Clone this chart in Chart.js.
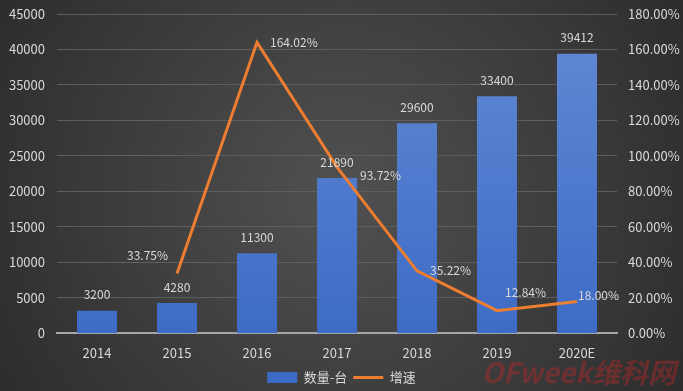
<!DOCTYPE html>
<html>
<head>
<meta charset="utf-8">
<script src="https://cdn.jsdelivr.net/npm/chart.js@4/dist/chart.umd.min.js"></script>
<style>
    html, body { margin: 0; padding: 0; background: #3a3a3a; }
    #wrap { width: 683px; height: 391px; position: relative; }
</style>
</head>
<body>
<div id="wrap"><canvas id="chart"></canvas></div>
<script>
    const years = ["2014", "2015", "2016", "2017", "2018", "2019", "2020E"];
    const units = [3200, 4280, 11300, 21890, 29600, 33400, 39412];
    const growth = [null, 0.3375, 1.6402, 0.9372, 0.3522, 0.1284, 0.18];
    const unitsLabel = "数量-台";
    const growthLabel = "增速";

    const textColor = "#d9d9d9";
    const fontFamily = "'Noto Sans CJK SC', 'Open Sans', sans-serif";

    // dark radial background like the office theme
    const backgroundPlugin = {
        id: "bg",
        beforeDraw(chart) {
            const ctx = chart.ctx;
            const w = chart.width, h = chart.height;
            const g = ctx.createRadialGradient(w / 2, h / 2, 20, w / 2, h / 2, w * 0.62);
            g.addColorStop(0, "#4f4f4f");
            g.addColorStop(1, "#2a2a2a");
            ctx.save();
            ctx.fillStyle = g;
            ctx.fillRect(0, 0, w, h);
            ctx.restore();
        }
    };

    // value labels for bars and line points
    const labelPlugin = {
        id: "valueLabels",
        afterDatasetsDraw(chart, args, opts) {
            const ctx = chart.ctx;
            ctx.save();
            ctx.font = "12px " + fontFamily;
            ctx.fillStyle = textColor;
            ctx.textBaseline = "middle";

            chart.getDatasetMeta(0).data.forEach((bar, i) => {
                ctx.textAlign = "center";
                ctx.fillText(String(units[i]), bar.x, bar.y - 16);
            });

            chart.getDatasetMeta(1).data.forEach((pt, i) => {
                if (growth[i] == null) return;
                const off = opts.lineOffsets[i];
                ctx.textAlign = "left";
                ctx.fillText((growth[i] * 100).toFixed(2) + "%", pt.x + off[0], pt.y + off[1]);
            });

            // watermark
            ctx.font = "italic bold 28px " + fontFamily;
            ctx.fillStyle = "rgba(190, 40, 40, 0.4)";
            ctx.textAlign = "right";
            ctx.fillText("OFweek维科网", 676, 372);
            ctx.restore();
        }
    };

    // let the top tick label overflow the chart area like the original
    function fitAxis(width) {
        return function (scale) {
            scale.width = width;
            scale.paddingTop = 0;
        };
    }

    new Chart(document.getElementById("chart"), {
        data: {
            labels: years,
            datasets: [{
                type: "bar",
                label: unitsLabel,
                data: units,
                yAxisID: "y",
                order: 2,
                barPercentage: 0.5,
                categoryPercentage: 1.0,
                pointStyle: "rect",
                backgroundColor: function (c) {
                    const area = c.chart.chartArea;
                    if (!area) return "#4472c4";
                    const g = c.chart.ctx.createLinearGradient(0, area.top, 0, area.bottom);
                    g.addColorStop(0, "#6289d4");
                    g.addColorStop(1, "#3d6cc6");
                    return g;
                },
                borderWidth: 0
            }, {
                type: "line",
                label: growthLabel,
                data: growth,
                yAxisID: "y1",
                order: 1,
                borderColor: "#ed7d31",
                backgroundColor: "#ed7d31",
                borderWidth: 3,
                pointRadius: 0,
                pointStyle: "line",
                tension: 0
            }]
        },
        options: {
            responsive: true,
            maintainAspectRatio: false,
            animation: false,
            layout: { padding: { top: 14, left: 0, right: 0, bottom: -3 } },
            plugins: {
                tooltip: { enabled: false },
                legend: {
                    position: "bottom",
                    labels: {
                        color: textColor,
                        font: { size: 13, family: fontFamily },
                        usePointStyle: true,
                        pointStyleWidth: 30,
                        boxHeight: 11,
                        padding: 6,
                        sort: (a, b) => a.datasetIndex - b.datasetIndex
                    }
                },
                valueLabels: {
                    lineOffsets: [[0, 0], [-50, -18], [13, 0], [23, 8], [13, 0], [8, -18], [1, -6]]
                }
            },
            scales: {
                x: {
                    grid: { display: false },
                    border: { color: "#a6a6a6", width: 2 },
                    ticks: { color: textColor, font: { size: 13, family: fontFamily }, padding: 4 }
                },
                y: {
                    position: "left",
                    min: 0,
                    max: 45000,
                    ticks: {
                        stepSize: 5000,
                        color: textColor,
                        font: { size: 13, family: fontFamily },
                        padding: 12,
                        callback: v => String(v)
                    },
                    grid: { color: "#5e5e5e", drawTicks: false },
                    border: { display: false },
                    afterFit: fitAxis(57)
                },
                y1: {
                    position: "right",
                    min: 0,
                    max: 1.8,
                    ticks: {
                        stepSize: 0.2,
                        color: textColor,
                        font: { size: 13, family: fontFamily },
                        padding: 11,
                        callback: v => (v * 100).toFixed(2) + "%"
                    },
                    grid: { display: false, drawTicks: false },
                    border: { display: false },
                    afterFit: fitAxis(66)
                }
            }
        },
        plugins: [backgroundPlugin, labelPlugin]
    });
</script>
</body>
</html>
